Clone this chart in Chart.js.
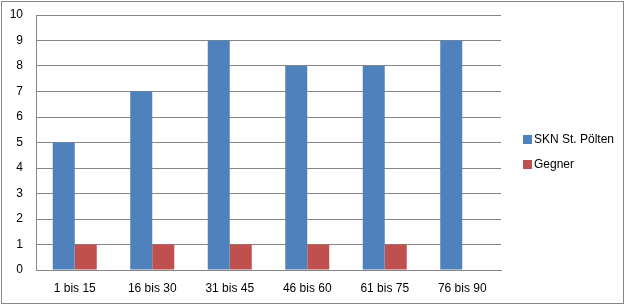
<!DOCTYPE html>
<html><head><meta charset="utf-8">
<script src="https://cdn.jsdelivr.net/npm/chart.js@4/dist/chart.umd.min.js"></script>
<style>html,body{margin:0;padding:0;background:#fff;}#wrap{width:626px;height:305px;position:relative;}</style>
</head><body><div id="wrap"><canvas id="c" width="626" height="305"></canvas></div>
<script>
const categories = ["1 bis 15","16 bis 30","31 bis 45","46 bis 60","61 bis 75","76 bis 90"];
const sknValues = [5,7,9,8,8,9];
const gegnerValues = [1,1,1,1,1,0];
const seriesNames = ["SKN St. Pölten","Gegner"];
const yTicks = [0,1,2,3,4,5,6,7,8,9,10];

const FONT = "'Liberation Sans', Arial, sans-serif";
const customLegend = {
  id:'customLegend',
  afterDraw(chart){
    const ctx = chart.ctx;
    ctx.save();
    ctx.strokeStyle = '#868686';
    ctx.lineWidth = 1;
    ctx.strokeRect(1.5,1.5,622,302);
    ctx.font = "12px " + FONT;
    ctx.textBaseline = 'middle';
    ctx.textAlign = 'left';
    chart.data.datasets.forEach((ds,i)=>{
      const y = 140 + i*25;
      ctx.fillStyle = ds.backgroundColor;
      ctx.fillRect(523, y-5, 9, 9);
      ctx.fillStyle = '#000';
      ctx.fillText(ds.label, 534, y);
    });
    ctx.restore();
  }
};

new Chart(document.getElementById('c'), {
  type:'bar',
  data:{
    labels: categories,
    datasets:[
      {label: seriesNames[0], data: sknValues, backgroundColor:'#4F81BD'},
      {label: seriesNames[1], data: gegnerValues, backgroundColor:'#C0504D'}
    ]
  },
  options:{
    responsive:false, animation:false,
    devicePixelRatio:1,
    layout:{padding:{left:0,right:125,top:15,bottom:0}},
    datasets:{bar:{categoryPercentage:0.568, barPercentage:1}},
    plugins:{legend:{display:false}, tooltip:{enabled:false}},
    scales:{
      x:{
        grid:{display:false, drawTicks:false},
        border:{display:true, color:'#868686', width:1},
        ticks:{color:'#000', font:{family:FONT,size:12}, padding:11, maxRotation:0},
        afterFit(s){ s.height = 35; s.paddingLeft = 0; s.paddingRight = 0; }
      },
      y:{
        min:0, max:10,
        afterBuildTicks(s){ s.ticks = yTicks.map(v=>({value:v})); },
        grid:{color:'#868686', drawTicks:false, lineWidth:1},
        border:{display:true, color:'#868686', width:1},
        ticks:{color:'#000', font:{family:FONT,size:12}, padding:13},
        afterFit(s){ s.width = 36; s.paddingTop = 0; s.paddingBottom = 0; }
      }
    }
  },
  plugins:[customLegend]
});
</script></body></html>
